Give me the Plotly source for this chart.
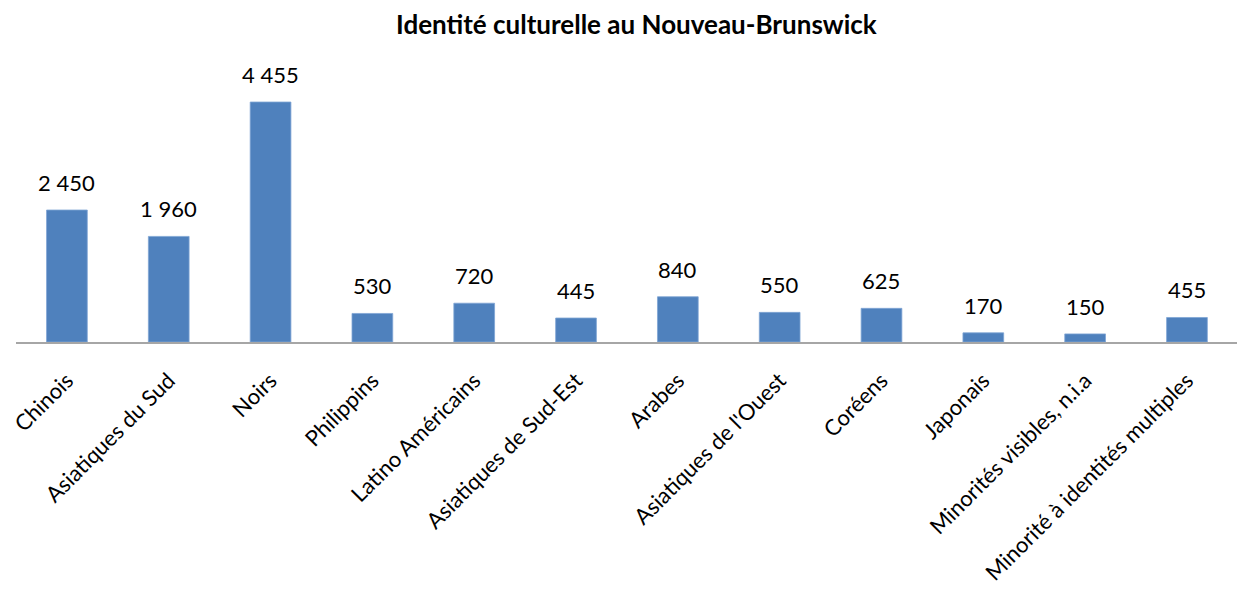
import plotly.graph_objects as go

categories = ["Chinois", "Asiatiques du Sud", "Noirs", "Philippins", "Latino Américains",
              "Asiatiques de Sud-Est", "Arabes", "Asiatiques de l'Ouest", "Coréens", "Japonais",
              "Minorités visibles, n.i.a", "Minorité à identités multiples"]
values = [2450, 1960, 4455, 530, 720, 445, 840, 550, 625, 170, 150, 455]
title = "Identité culturelle au Nouveau-Brunswick"

FONT = "Lato"

fig = go.Figure(go.Bar(
    x=categories, y=values,
    marker=dict(color="#4F81BD", line=dict(color="#7FA4D4", width=0.8)),
    width=0.4,
    cliponaxis=False,
))

for c, v in zip(categories, values):
    fig.add_annotation(
        x=c, y=v, xref="x", yref="y",
        text=f"{v:,}".replace(",", " "),
        showarrow=False, yanchor="bottom", yshift=12,
        font=dict(family=FONT, size=22, color="#000000"),
    )

fig.update_layout(
    width=1237, height=604,
    margin=dict(l=8, r=0, t=52, b=270, autoexpand=False),
    paper_bgcolor="white", plot_bgcolor="white",
    title=dict(text=f"<b>{title}</b>", x=0.508, xanchor="center", y=0.972, yanchor="middle",
               font=dict(family=FONT, size=26, color="#000000")),
    showlegend=False,
)
fig.update_xaxes(
    range=[-0.5, 11.57],
    tickangle=-45,
    automargin=False,
    ticklabelstandoff=15,
    tickfont=dict(family=FONT, size=22, color="#000000"),
    showline=True, linecolor="#A6A6A6", linewidth=2,
    ticks="", showgrid=False,
)
fig.update_yaxes(
    range=[0, 5235],
    automargin=False,
    visible=False, showgrid=False, zeroline=False,
)

fig.write_html("out.html")
